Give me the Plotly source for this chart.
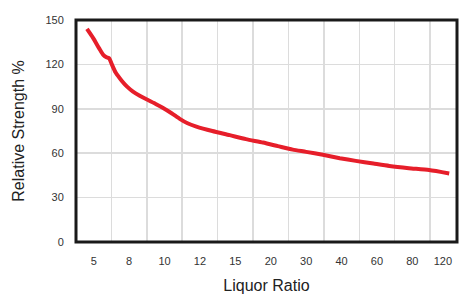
import plotly.graph_objects as go

# Category labels along the x axis (liquor ratio)
ratio_labels = ["5", "8", "10", "12", "15", "20", "30", "40", "60", "80", "120"]

# Curve: position along the category axis (category units) and relative strength %
curve_pos = [0.31, 0.49, 0.65, 0.77, 0.86, 0.94, 1.0, 1.12, 1.29, 1.45, 1.61, 1.8, 1.99,
             2.25, 2.46, 2.7, 2.93, 3.15, 3.4, 3.85, 4.34, 4.8, 5.28, 5.7, 6.12, 6.5,
             6.97, 7.45, 7.9, 8.4, 8.85, 9.4, 9.97, 10.54]
strength = [144, 137.6, 131.0, 126.4, 124.8, 124.0, 120.7, 114.5, 109.0, 104.8, 101.6, 98.8, 96.4,
            93.3, 90.6, 87.0, 83.2, 80.2, 78.0, 75.0, 72.2, 69.5, 67.2, 64.8, 62.4, 60.9,
            58.9, 56.6, 54.8, 53.0, 51.4, 49.9, 48.6, 46.3]

y_ticks = [0, 30, 60, 90, 120, 150]

n = len(ratio_labels)
x_max = 10.76
label_pos = [i + 0.5 for i in range(n)]
label_pos[-1] = 10.36
grid_pos = list(range(1, n))

fig = go.Figure()
fig.add_trace(go.Scatter(
    x=curve_pos, y=strength, mode="lines",
    line=dict(color="#e61e2a", width=4, shape="spline", smoothing=0.6),
    hoverinfo="skip", showlegend=False,
))

font_family = "Liberation Sans, Arial, sans-serif"

fig.update_layout(
    width=459, height=294,
    margin=dict(l=76, r=2, t=20, b=52, autoexpand=False),
    paper_bgcolor="white", plot_bgcolor="white",
    font=dict(family=font_family, color="#333333", size=11),
    xaxis=dict(
        range=[0, x_max], tickmode="array", tickvals=label_pos, ticktext=ratio_labels,
        showgrid=False, zeroline=False, showline=False, automargin=False,
        ticks="outside", ticklen=9, tickcolor="rgba(0,0,0,0)",
        tickfont=dict(size=11, color="#333333"),
        minor=dict(tickmode="array", tickvals=grid_pos, showgrid=True,
                   gridcolor="#dcdcdc", gridwidth=1.5, ticks=""),
        title=dict(text="Liquor Ratio", font=dict(size=16, color="#222222"), standoff=19),
        fixedrange=True,
    ),
    yaxis=dict(
        range=[0, 150], tickmode="array", tickvals=y_ticks,
        showgrid=True, gridcolor="#dcdcdc", gridwidth=1.5, zeroline=False, showline=False,
        automargin=False,
        ticks="outside", ticklen=9, tickcolor="rgba(0,0,0,0)",
        tickfont=dict(size=11, color="#333333"),
        title=dict(text="Relative Strength %", font=dict(size=16, color="#222222"), standoff=16),
        fixedrange=True,
    ),
    shapes=[dict(type="rect", xref="paper", yref="paper", x0=0, x1=1, y0=0, y1=1,
                 line=dict(color="#1a1a1a", width=3), fillcolor="rgba(0,0,0,0)", layer="above")],
)

fig.write_html(
    "out.html",
    config={"displayModeBar": False, "staticPlot": True},
    post_script="document.body.style.margin='0';document.body.style.overflow='hidden';",
)
